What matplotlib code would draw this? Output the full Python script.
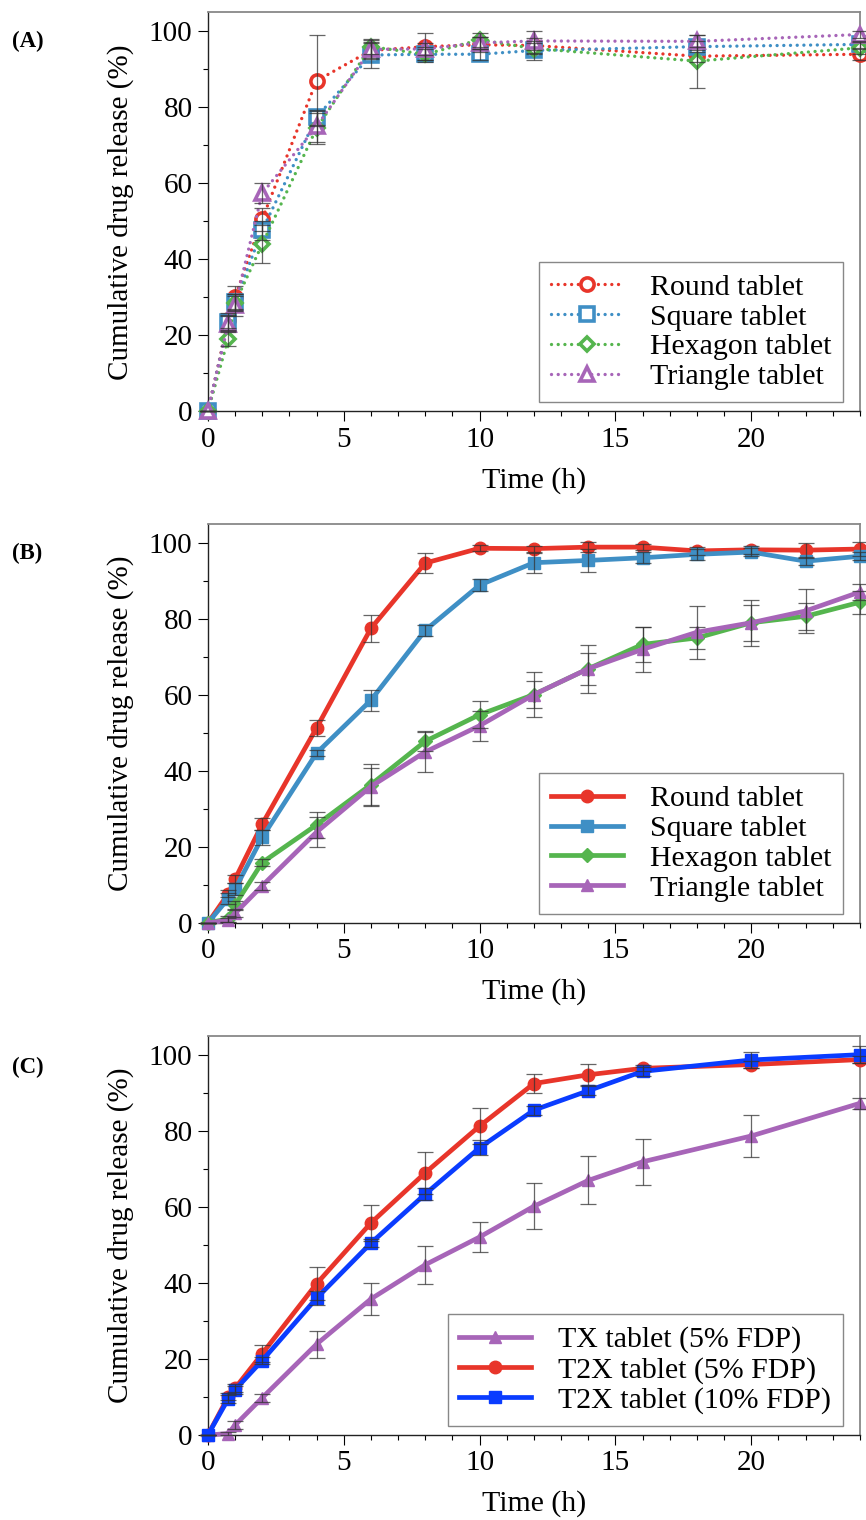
import matplotlib
matplotlib.use("Agg")
import matplotlib.pyplot as plt
from matplotlib.ticker import MultipleLocator

plt.rcParams['font.family'] = ['Liberation Serif', 'DejaVu Serif']

# (A) dotted curves
t_a = [0, 0.75, 1, 2, 4, 6, 8, 10, 12, 18, 24]
round_a = [0, 24, 30, 50.6, 87, 95, 96, 96.5, 96.3, 93.5, 94]
square_a = [0, 23.5, 28.8, 47.7, 77.4, 93.8, 94, 94, 95, 96, 96.6]
hexagon_a = [0, 19.2, 28.5, 44, 74.5, 96, 94, 97.8, 95.5, 92.2, 95.7]
triangle_a = [0, 23, 28, 57.4, 75, 95.3, 95.4, 97, 97.5, 97.4, 99.2]
round_a_err = [0, 2, 3, 3, 12, 2, 3.5, 2, 2, 1.5, 1.5]
square_a_err = [0, 2, 2, 2.5, 2, 3.5, 1.5, 1.5, 2.5, 1.5, 1]
hexagon_a_err = [0, 2, 2, 5, 4, 2, 2, 1.8, 1.5, 7, 1.5]
triangle_a_err = [0, 2, 3, 2.6, 4, 2.5, 1.5, 1.5, 2.5, 1.6, 1]

# (B)
t_b = [0, 0.75, 1, 2, 4, 6, 8, 10, 12, 14, 16, 18, 20, 22, 24]
round_b = [0, 7.7, 11.5, 26, 51.3, 77.5, 94.7, 98.6, 98.5, 98.9, 98.9, 97.9, 98.2, 98.1, 98.4]
square_b = [0, 6.4, 8.9, 22.5, 44.7, 58.6, 77, 88.9, 94.8, 95.4, 96.1, 97, 97.6, 95.2, 96.5]
hexagon_b = [0, 1.1, 4.7, 15.9, 25.8, 36.4, 47.8, 54.8, 60.1, 66.9, 73.3, 75, 79, 80.7, 84.4]
triangle_b = [0, 0.7, 2.5, 9.8, 23.9, 35.9, 45, 51.9, 60.1, 66.9, 72, 76.5, 79, 82.1, 87.1]
round_b_err = [0, 1, 1, 1.5, 2, 3.5, 2.7, 0.8, 0.8, 1.4, 0.8, 1, 1, 2, 1.8]
square_b_err = [0, 1.5, 1.5, 2, 0.8, 2.8, 1.4, 1.6, 2.6, 3, 1.5, 1.5, 1, 1, 1]
hexagon_b_err = [0, 0.8, 1, 1, 3.4, 5.5, 2.6, 3.5, 3.5, 4.2, 4.5, 3, 4.8, 3.5, 3]
triangle_b_err = [0, 0.5, 1, 1, 4, 4.8, 5.3, 4, 6, 6.3, 6, 7, 6, 5.7, 2]

# (C)
t_c = [0, 0.75, 1, 2, 4, 6, 8, 10, 12, 14, 16, 20, 24]
tx_5 = [0, 0.4, 2.6, 9.8, 23.9, 35.8, 44.8, 52.1, 60.2, 67, 71.9, 78.7, 87.3]
t2x_5 = [0, 10.1, 12.3, 21.4, 39.8, 55.8, 69, 81.3, 92.5, 94.8, 96.5, 97.5, 98.8]
t2x_10 = [0, 9.5, 11.9, 19.6, 36, 50.5, 63.4, 75.6, 85.5, 90.6, 95.7, 98.7, 100.1]
tx_5_err = [0, 0.5, 1, 1, 3.6, 4.3, 5, 4, 6, 6.3, 6, 5.5, 1.5]
t2x_5_err = [0, 1, 1, 2.3, 4.3, 4.8, 5.5, 4.8, 2.6, 2.8, 0.8, 1, 1]
t2x_10_err = [0, 1, 1, 1, 1.8, 1, 1.5, 2, 1.2, 1.2, 1.2, 2, 2.2]

RED = '#e8352a'
BLUE = '#3f8fc5'
GREEN = '#55b54e'
PURPLE = '#a765b8'
DBLUE = '#0a3cff'

fig = plt.figure(figsize=(8.66, 15.2), dpi=100)
axA = fig.add_axes([0.240, 0.7293, 0.753, 0.2625])
axB = fig.add_axes([0.240, 0.3928, 0.753, 0.2625])
axC = fig.add_axes([0.240, 0.0559, 0.753, 0.2625])


def style_axes(ax):
    ax.set_xlim(0, 24)
    ax.set_ylim(0, 105)
    ax.xaxis.set_major_locator(MultipleLocator(5))
    ax.xaxis.set_minor_locator(MultipleLocator(1))
    ax.yaxis.set_major_locator(MultipleLocator(20))
    ax.yaxis.set_minor_locator(MultipleLocator(10))
    ax.tick_params(which='major', direction='out', length=7, width=0.8, labelsize=21, pad=4)
    ax.tick_params(which='minor', direction='out', length=3.5, width=0.8)
    for s in ['left', 'bottom']:
        ax.spines[s].set_color('#222222')
        ax.spines[s].set_linewidth(1.0)
    for s in ['top', 'right']:
        ax.spines[s].set_color('#888888')
        ax.spines[s].set_linewidth(1.3)
    ax.set_xlabel('Time (h)', fontsize=21.5, labelpad=10)
    ax.set_ylabel('Cumulative drug release (%)', fontsize=21, labelpad=11)


def err(ax, t, y, e):
    ax.errorbar(t, y, yerr=e, fmt='none', ecolor='#333333', elinewidth=0.9,
                capsize=6, capthick=0.9, alpha=0.75, zorder=5, clip_on=False)


# (A)
dot = (0, (0.01, 2.0))
for y, e, c, m, lab in [(round_a, round_a_err, RED, 'o', 'Round tablet'),
                        (square_a, square_a_err, BLUE, 's', 'Square tablet'),
                        (hexagon_a, hexagon_a_err, GREEN, 'D', 'Hexagon tablet'),
                        (triangle_a, triangle_a_err, PURPLE, '^', 'Triangle tablet')]:
    ms = 7.5 if m == 'D' else 9.5
    axA.plot(t_a, y, linestyle=dot, dash_capstyle='round', lw=2.4, color=c,
             marker=m, ms=ms, mfc='white', mec=c, mew=2.6, label=lab, clip_on=False, zorder=3)
    err(axA, t_a, y, e)

# (B)
for y, e, c, m, lab in [(round_b, round_b_err, RED, 'o', 'Round tablet'),
                        (square_b, square_b_err, BLUE, 's', 'Square tablet'),
                        (hexagon_b, hexagon_b_err, GREEN, 'D', 'Hexagon tablet'),
                        (triangle_b, triangle_b_err, PURPLE, '^', 'Triangle tablet')]:
    ms = 7.5 if m == 'D' else 9
    axB.plot(t_b, y, '-', lw=3.4, color=c, marker=m, ms=ms, mec=c,
             label=lab, clip_on=False, zorder=3)
    err(axB, t_b, y, e)

# (C)
for y, e, c, m, lab in [(tx_5, tx_5_err, PURPLE, '^', 'TX tablet (5% FDP)'),
                        (t2x_5, t2x_5_err, RED, 'o', 'T2X tablet (5% FDP)'),
                        (t2x_10, t2x_10_err, DBLUE, 's', 'T2X tablet (10% FDP)')]:
    axC.plot(t_c, y, '-', lw=3.4, color=c, marker=m, ms=9, mec=c,
             label=lab, clip_on=False, zorder=3)
    err(axC, t_c, y, e)

for ax in (axA, axB, axC):
    style_axes(ax)
    ax.legend(loc='lower right', bbox_to_anchor=(0.974, 0.023), borderaxespad=0,
              fontsize=21.5, fancybox=False, edgecolor='#888888', framealpha=1,
              handlelength=2.4, labelspacing=0.1, borderpad=0.4,
              handletextpad=0.9, numpoints=1)

fig.text(0.014, 0.9724, '(A)', fontsize=16.5, fontweight='bold', va='center')
fig.text(0.014, 0.6362, '(B)', fontsize=16.5, fontweight='bold', va='center')
fig.text(0.014, 0.2974, '(C)', fontsize=16.5, fontweight='bold', va='center')

fig.savefig('out.png', dpi=100)
